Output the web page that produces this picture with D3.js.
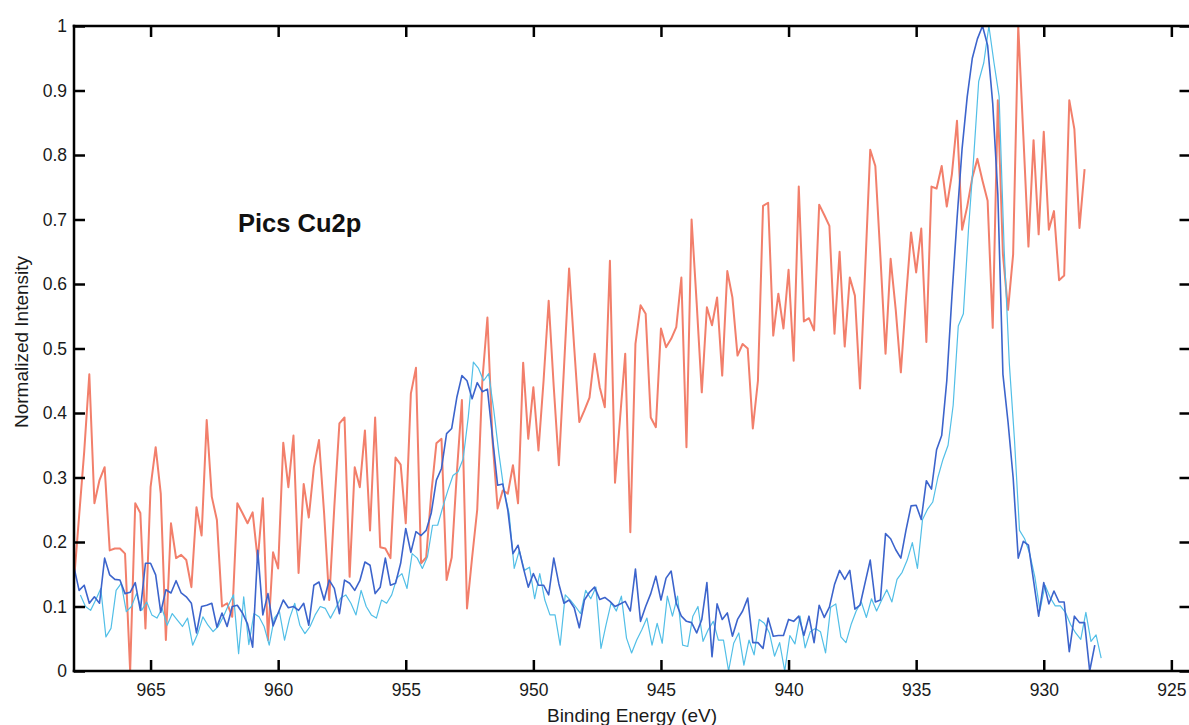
<!DOCTYPE html>
<html>
<head>
<meta charset="utf-8">
<script src="https://cdn.jsdelivr.net/npm/d3@7"></script>
<style>
  html, body { margin: 0; padding: 0; background: #fff; }
  svg { display: block; }
  text { font-family: "Liberation Sans", Arial, sans-serif; }
</style>
</head>
<body>
<svg id="chart" width="1189" height="725"></svg>
<script>
// ---- data ----
const xTicks = [965, 960, 955, 950, 945, 940, 935, 930, 925];
const yTicks = [0, 0.1, 0.2, 0.3, 0.4, 0.5, 0.6, 0.7, 0.8, 0.9, 1];
const yTickLabels = ["0", "0.1", "0.2", "0.3", "0.4", "0.5", "0.6", "0.7", "0.8", "0.9", "1"];
const xDomain = [968, 924.25];
const yDomain = [0, 1];
const stepEV = 0.2;

const redStart = 968.0;
const redValues = [0.14,0.24,0.34,0.46,0.26,0.296,0.316,0.187,0.19,0.19,0.182,0.0,0.26,0.245,0.066,0.285,0.347,0.275,0.048,0.229,
0.175,0.18,0.172,0.13,0.254,0.21,0.389,0.27,0.234,0.1,0.105,0.084,0.26,0.245,0.229,0.246,0.172,0.268,0.048,0.184,
0.159,0.354,0.285,0.365,0.152,0.29,0.238,0.316,0.358,0.245,0.11,0.254,0.384,0.393,0.146,0.316,0.285,0.373,0.218,0.393,
0.192,0.19,0.175,0.331,0.32,0.229,0.43,0.47,0.167,0.176,0.275,0.353,0.36,0.141,0.176,0.306,0.42,0.097,0.176,0.25,
0.45,0.548,0.357,0.252,0.28,0.275,0.319,0.26,0.478,0.36,0.44,0.342,0.45,0.574,0.44,0.319,0.47,0.624,0.502,0.386,
0.404,0.424,0.492,0.44,0.409,0.636,0.292,0.393,0.492,0.215,0.507,0.567,0.554,0.393,0.378,0.531,0.502,0.515,0.533,0.61,
0.347,0.70,0.57,0.432,0.564,0.536,0.579,0.458,0.62,0.579,0.489,0.507,0.5,0.376,0.45,0.721,0.726,0.52,0.585,0.531,
0.622,0.481,0.751,0.542,0.547,0.528,0.723,0.707,0.69,0.523,0.65,0.503,0.61,0.582,0.438,0.62,0.808,0.783,0.642,0.492,
0.639,0.56,0.463,0.577,0.68,0.618,0.686,0.51,0.751,0.748,0.783,0.72,0.77,0.853,0.684,0.72,0.765,0.794,0.76,0.729,
0.532,0.885,0.646,0.56,0.646,1.0,0.83,0.658,0.823,0.677,0.836,0.684,0.713,0.606,0.613,0.885,0.84,0.687,0.778];

const blueStart = 968.0;
const blueValues = [0.161,0.125,0.133,0.105,0.115,0.105,0.175,0.149,0.142,0.141,0.12,0.122,0.137,0.094,0.167,0.167,0.149,0.091,0.126,0.121,
0.14,0.121,0.115,0.105,0.059,0.1,0.102,0.105,0.068,0.09,0.069,0.1,0.102,0.09,0.073,0.037,0.187,0.087,0.12,0.07,
0.09,0.11,0.098,0.1,0.094,0.105,0.071,0.133,0.138,0.11,0.141,0.128,0.089,0.141,0.136,0.125,0.14,0.169,0.164,0.12,
0.13,0.175,0.133,0.136,0.167,0.221,0.184,0.216,0.21,0.218,0.245,0.296,0.314,0.368,0.376,0.424,0.458,0.45,0.422,0.447,
0.433,0.437,0.362,0.288,0.29,0.249,0.182,0.195,0.161,0.13,0.151,0.133,0.133,0.118,0.175,0.135,0.105,0.11,0.098,0.067,
0.11,0.122,0.13,0.111,0.114,0.108,0.1,0.104,0.108,0.093,0.158,0.077,0.1,0.12,0.147,0.11,0.144,0.155,0.105,0.085,
0.077,0.075,0.059,0.08,0.137,0.022,0.104,0.08,0.09,0.054,0.08,0.093,0.113,0.044,0.044,0.035,0.082,0.054,0.055,0.055,
0.08,0.077,0.085,0.055,0.085,0.044,0.102,0.083,0.099,0.134,0.156,0.142,0.156,0.096,0.102,0.137,0.172,0.107,0.11,0.213,
0.205,0.188,0.175,0.218,0.256,0.257,0.235,0.295,0.282,0.343,0.365,0.45,0.58,0.70,0.81,0.89,0.95,0.98,1.0,0.97,
0.88,0.74,0.46,0.386,0.30,0.175,0.201,0.195,0.14,0.085,0.137,0.104,0.124,0.107,0.107,0.03,0.085,0.075,0.075,0.0,0.04];

const cyanStart = 967.75;
const cyanValues = [0.118,0.1,0.094,0.11,0.128,0.053,0.066,0.125,0.136,0.092,0.1,0.12,0.094,0.107,0.087,0.082,0.097,0.071,0.089,0.079,
0.069,0.082,0.04,0.058,0.084,0.071,0.061,0.069,0.084,0.102,0.118,0.027,0.115,0.041,0.089,0.084,0.069,0.04,0.082,0.092,
0.048,0.082,0.105,0.071,0.058,0.069,0.087,0.1,0.097,0.082,0.097,0.113,0.118,0.105,0.087,0.125,0.1,0.087,0.082,0.11,
0.105,0.118,0.144,0.151,0.128,0.182,0.175,0.159,0.177,0.226,0.226,0.254,0.28,0.303,0.309,0.329,0.394,0.479,0.469,0.45,
0.461,0.404,0.337,0.28,0.244,0.159,0.187,0.156,0.161,0.112,0.151,0.11,0.087,0.087,0.04,0.118,0.11,0.1,0.089,0.125,
0.112,0.13,0.035,0.072,0.106,0.093,0.116,0.051,0.028,0.048,0.064,0.082,0.04,0.074,0.043,0.116,0.085,0.116,0.04,0.038,
0.085,0.1,0.046,0.064,0.077,0.048,0.048,0.0,0.043,0.059,0.009,0.048,0.025,0.08,0.074,0.059,0.023,0.044,0.0,0.055,
0.042,0.085,0.036,0.061,0.066,0.061,0.028,0.099,0.104,0.053,0.044,0.072,0.093,0.107,0.083,0.112,0.093,0.11,0.126,0.107,
0.142,0.153,0.172,0.199,0.159,0.235,0.251,0.262,0.3,0.328,0.35,0.412,0.535,0.554,0.684,0.794,0.914,0.943,1.0,0.943,
0.891,0.652,0.477,0.36,0.218,0.205,0.182,0.146,0.094,0.133,0.114,0.101,0.101,0.091,0.072,0.059,0.049,0.091,0.046,0.056,0.02];

// ---- layout ----
const svg = d3.select("#chart");
const pLeft = 74, pTop = 26, pBottom = 671, pRight = 1190.5;
const x = d3.scaleLinear().domain(xDomain).range([pLeft, pRight]);
const y = d3.scaleLinear().domain(yDomain).range([pBottom, pTop]);

function toPoints(start, vals) {
  return vals.map((v, i) => ({ e: start - i * stepEV, v: v }));
}
const line = d3.line().x(d => x(d.e)).y(d => y(d.v));

const plot = svg.append("g");
plot.append("path").datum(toPoints(redStart, redValues))
  .attr("fill", "none").attr("stroke", "#f27f6b").attr("stroke-width", 2)
  .attr("stroke-linejoin", "round").attr("d", line);
plot.append("path").datum(toPoints(cyanStart, cyanValues))
  .attr("fill", "none").attr("stroke", "#52bfe7").attr("stroke-width", 1.2)
  .attr("stroke-linejoin", "round").attr("d", line);
plot.append("path").datum(toPoints(blueStart, blueValues))
  .attr("fill", "none").attr("stroke", "#3c64cc").attr("stroke-width", 1.6)
  .attr("stroke-linejoin", "round").attr("d", line);

// ---- axes ----
const tickLen = 11;
const axisColor = "#000";
const labelSize = "17.5px";
const gB = svg.append("g").attr("transform", `translate(0,${pBottom})`)
  .call(d3.axisBottom(x).tickValues(xTicks).tickSizeInner(-tickLen).tickSizeOuter(0).tickFormat(d3.format("d")));
const gT = svg.append("g").attr("transform", `translate(0,${pTop})`)
  .call(d3.axisTop(x).tickValues(xTicks).tickSizeInner(-tickLen).tickSizeOuter(0).tickFormat(""));
const gL = svg.append("g").attr("transform", `translate(${pLeft},0)`)
  .call(d3.axisLeft(y).tickValues(yTicks).tickSizeInner(-tickLen).tickSizeOuter(0).tickPadding(7)
    .tickFormat((d, i) => yTickLabels[i]));
const gR = svg.append("g").attr("transform", `translate(${pRight},0)`)
  .call(d3.axisRight(y).tickValues(yTicks).tickSizeInner(-tickLen).tickSizeOuter(0).tickFormat(""));

[gB, gT, gL, gR].forEach(g => {
  g.select(".domain").remove();
  g.selectAll(".tick line").attr("stroke", axisColor).attr("stroke-width", 2.5);
  g.selectAll(".tick text").attr("fill", "#1a1a1a").style("font-size", labelSize)
    .style("font-family", "'Liberation Sans', Arial, sans-serif");
});
gB.selectAll(".tick text").attr("y", 25).attr("dy", 0);

// frame
svg.append("g").selectAll("line").data([
  [pLeft, pTop, pRight, pTop], [pLeft, pBottom, pRight, pBottom], [pLeft, pTop, pLeft, pBottom], [pRight, pTop, pRight, pBottom]
]).join("line")
  .attr("x1", d => d[0]).attr("y1", d => d[1]).attr("x2", d => d[2]).attr("y2", d => d[3])
  .attr("stroke", axisColor).attr("stroke-width", 2.5).attr("stroke-linecap", "square");

// titles
svg.append("text").attr("x", 632).attr("y", 722).attr("text-anchor", "middle")
  .attr("fill", "#1a1a1a").style("font-size", "19px").text("Binding Energy (eV)");
svg.append("text").attr("transform", "translate(28,342) rotate(-90)").attr("text-anchor", "middle")
  .attr("fill", "#1a1a1a").style("font-size", "19px").text("Normalized Intensity");
svg.append("text").attr("x", 238).attr("y", 232)
  .attr("fill", "#111").style("font-size", "25.5px").style("font-weight", "bold").text("Pics Cu2p");
</script>
</body>
</html>
